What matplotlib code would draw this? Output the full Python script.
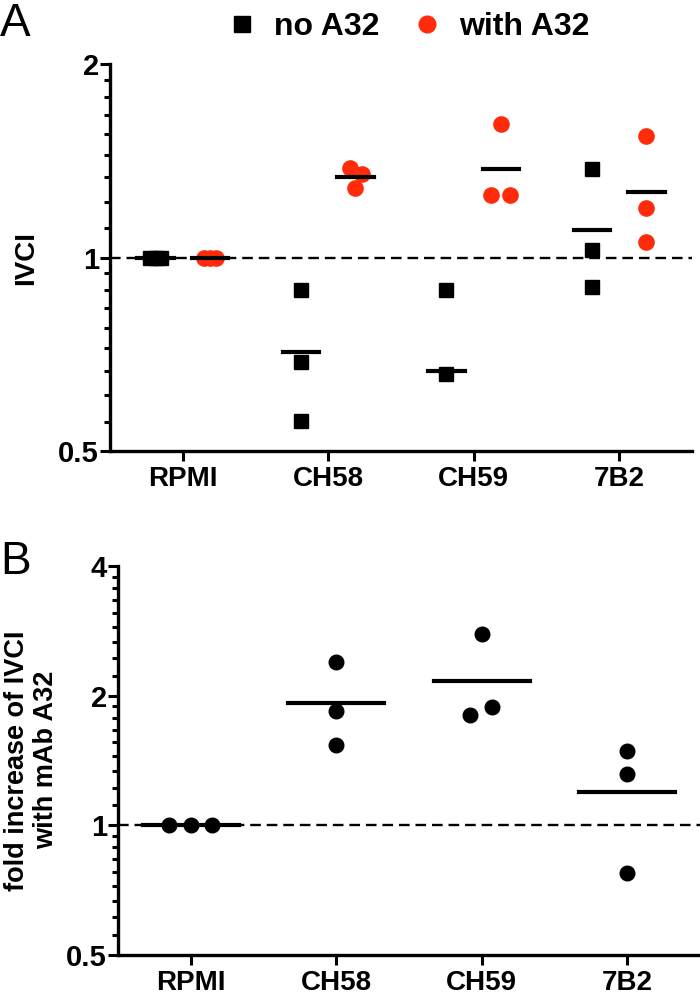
import matplotlib
matplotlib.use("Agg")
import matplotlib.pyplot as plt
from matplotlib.lines import Line2D
from matplotlib.ticker import FixedLocator, FixedFormatter
import numpy as np

plt.rcParams['font.family'] = ['Liberation Sans', 'DejaVu Sans']

# categories
groups = ["RPMI", "CH58", "CH59", "7B2"]

# panel A: IVCI without / with A32
no_a32 = [
    [1.0, 1.0, 1.0],
    [0.889, 0.689, 0.557],
    [0.889, 0.659],
    [1.372, 1.029, 0.899],
]
with_a32 = [
    [1.0, 1.0, 1.0],
    [1.377, 1.347, 1.281],
    [1.249, 1.249, 1.612],
    [1.192, 1.059, 1.545],
]
no_a32_mean = [1.0, 0.714, 0.667, 1.102]
with_a32_mean = [1.0, 1.333, 1.372, 1.263]

# panel B: fold increase with mAb A32
fold = [
    [1.0, 1.0, 1.0],
    [2.39, 1.845, 1.537],
    [2.776, 1.885, 1.806],
    [1.488, 1.315, 0.773],
]
fold_mean = [1.0, 1.924, 2.156, 1.192]

# horizontal scatter of the points inside a column (style only)
jit_no = [[-0.035, 0.0, 0.035], [0, 0, 0], [0, 0], [0, 0, 0]]
jit_with = [[-0.04, 0.0, 0.045], [-0.035, 0.045, 0.0], [-0.065, 0.06, 0.0], [0, 0, 0]]
jit_fold = [[-0.15, 0.0, 0.145], [0, 0, 0], [0.0, 0.07, -0.08], [0, 0, 0]]

RED = '#FF2B0A'
SHIFT = 0.187


def log2_axis(ax, top, majors, labels):
    ax.set_yscale('log', base=2)
    ax.set_ylim(0.5, top)
    ax.set_xlim(-0.5, 3.5)
    ax.yaxis.set_major_locator(FixedLocator(majors))
    ax.yaxis.set_major_formatter(FixedFormatter(labels))
    minors = []
    lo = 0.5
    while lo < top:
        minors += [lo + k * lo / 9.0 for k in range(1, 9)]
        lo = lo * 2
    ax.yaxis.set_minor_locator(FixedLocator(minors))
    ax.yaxis.set_minor_formatter(FixedFormatter([''] * len(minors)))
    ax.set_xticks(range(len(groups)))
    ax.set_xticklabels(groups, fontsize=20, fontweight='bold')
    for lab in ax.get_yticklabels():
        lab.set_fontweight('bold')
        lab.set_fontsize(21)
    ax.spines['top'].set_visible(False)
    ax.spines['right'].set_visible(False)
    ax.spines['left'].set_linewidth(2.4)
    ax.spines['bottom'].set_linewidth(2.4)
    ax.tick_params(axis='both', which='major', length=7, width=2.2, pad=1)
    ax.tick_params(axis='x', which='major', pad=4)
    ax.tick_params(axis='y', which='minor', length=4.5, width=2.2)
    ax.axhline(1.0, color='black', lw=1.7, ls=(0, (4.5, 2.5)), zorder=1)


fig = plt.figure(figsize=(7.0, 9.97), dpi=100)

# ---- panel A
axA = fig.add_axes([0.1571, 0.5476, 0.8314, 0.3882])
log2_axis(axA, 2, [0.5, 1, 2], ['0.5', '1', '2'])
for i in range(len(groups)):
    xs = [i - SHIFT + j for j in jit_no[i]]
    axA.plot(xs, no_a32[i], 's', color='black', ms=10.5, zorder=3, clip_on=False)
    xs = [i + SHIFT + j for j in jit_with[i]]
    axA.plot(xs, with_a32[i], 'o', color=RED, ms=12, mec='none', zorder=3, clip_on=False)
    axA.plot([i - SHIFT - 0.125, i - SHIFT + 0.125], [no_a32_mean[i]] * 2, color='black', lw=3, zorder=4)
    axA.plot([i + SHIFT - 0.125, i + SHIFT + 0.125], [with_a32_mean[i]] * 2, color='black', lw=3, zorder=4)
axA.set_ylabel('IVCI', fontsize=20, fontweight='bold', labelpad=14)

# ---- panel B
axB = fig.add_axes([0.1686, 0.0426, 0.8314, 0.3897])
log2_axis(axB, 4, [0.5, 1, 2, 4], ['0.5', '1', '2', '4'])
for i in range(len(groups)):
    xs = [i + j for j in jit_fold[i]]
    axB.plot(xs, fold[i], 'o', color='black', ms=10.5, zorder=3, clip_on=False)
    axB.plot([i - 0.33, i + 0.33], [fold_mean[i]] * 2, color='black', lw=3, zorder=4)
axB.set_ylabel('fold increase of IVCI\nwith mAb A32', fontsize=19.5, fontweight='bold',
               labelpad=5, linespacing=1.15)

# legend on top
handles = [Line2D([], [], marker='s', color='black', ls='none', ms=11),
           Line2D([], [], marker='o', color=RED, mec='none', ls='none', ms=13)]
fig.legend(handles, ['no A32', 'with A32'], loc='center', ncol=2,
           bbox_to_anchor=(408 / 700, 1 - 27 / 997), frameon=False,
           prop={'weight': 'bold', 'size': 23}, handletextpad=0.5,
           columnspacing=1.0, handlelength=1.0)

fig.text(0.0, 1 - 2 / 997, 'A', fontsize=33, va='top', ha='left')
fig.text(0.0, 1 - 540 / 997, 'B', fontsize=33, va='top', ha='left')

fig.savefig('out.png', dpi=100)
